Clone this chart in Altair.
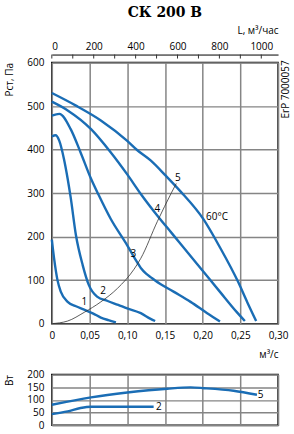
import altair as alt
import pandas as pd

# ---- data ----
# Pressure curves: q in m3/s, P in Pa
q1 = [0, 0.003, 0.0075, 0.012, 0.021, 0.032, 0.042, 0.055, 0.065, 0.075, 0.085]
p1 = [193, 150, 100, 73, 50, 40, 33, 23, 14, 8, 3]

q2 = [0, 0.005, 0.0097, 0.016, 0.021, 0.025, 0.032, 0.041, 0.049, 0.060, 0.074, 0.088, 0.100, 0.118, 0.131, 0.137]
p2 = [430, 433, 421, 379, 333, 290, 203, 134, 89, 62, 52, 43, 35, 24, 11, 6]

q3 = [0, 0.01, 0.025, 0.038, 0.052, 0.062, 0.078, 0.100, 0.110, 0.118, 0.125, 0.131, 0.137, 0.162, 0.184, 0.206, 0.223]
p3 = [478, 482, 447, 394, 333, 296, 241, 180, 150, 128, 115, 107, 99, 73, 50, 24, 5]

q4 = [0, 0.021, 0.052, 0.078, 0.100, 0.118, 0.140, 0.159, 0.197, 0.223, 0.245, 0.256]
p4 = [510, 490, 447, 394, 343, 298, 248, 208, 128, 73, 27, 6]

q5 = [0, 0.032, 0.065, 0.100, 0.113, 0.131, 0.151, 0.170, 0.201, 0.223, 0.247, 0.259, 0.271]
p5 = [530, 501, 467, 420, 399, 375, 340, 305, 240, 175, 96, 50, 6]

# System (network) curve
qs = [0, 0.021, 0.043, 0.065, 0.087, 0.109, 0.118, 0.140, 0.159, 0.165]
ps = [0, 6, 26, 50, 81, 125, 150, 235, 302, 322]

# Curve labels
lab_text = ["1", "2", "3", "4", "5", "60°C"]
lab_q = [0.043, 0.068, 0.108, 0.140, 0.167, 0.219]
lab_p = [50, 75, 161, 263, 334, 245]

# Power curves (W)
wq5 = [0, 0.052, 0.100, 0.153, 0.184, 0.202, 0.241, 0.272]
w5 = [81, 110, 129, 144, 149, 146, 136, 120]
wq2 = [0, 0.021, 0.038, 0.052, 0.100, 0.135]
w2 = [44, 55, 68, 73, 73, 73]
wlab_text = ["5", "2"]
wlab_q = [0.277, 0.142]
wlab_w = [120, 73]

x_ticks = [0, 0.05, 0.10, 0.15, 0.20, 0.25, 0.30]
p_ticks = [0, 100, 200, 300, 400, 500, 600]
w_ticks = [0, 50, 100, 150, 200]
l_ticks = [0, 100, 200, 300, 400, 500, 600, 700, 800, 900, 1000]
l_labels = [0, 200, 400, 600, 800, 1000]

BLUE = "#1a6db5"
GRID = "#858585"
FONT = "Open Sans"

curves = pd.concat([
    pd.DataFrame({"q": q, "P": p, "c": name})
    for q, p, name in [(q1, p1, "1"), (q2, p2, "2"), (q3, p3, "3"), (q4, p4, "4"), (q5, p5, "5")]
])
sys_df = pd.DataFrame({"q": qs, "P": ps})
lab_df = pd.DataFrame({"t": lab_text, "q": lab_q, "P": lab_p})
power = pd.concat([
    pd.DataFrame({"q": wq5, "W": w5, "c": "5"}),
    pd.DataFrame({"q": wq2, "W": w2, "c": "2"}),
])
wlab_df = pd.DataFrame({"t": wlab_text, "q": wlab_q, "W": wlab_w})
l_df = pd.DataFrame({"L": l_ticks})

label_expr = "datum.value == 0 ? '0' : replace(format(datum.value, '.2f'), '.', ',')"

xscale = alt.Scale(domain=[0, 0.30], nice=False, zero=True)
pscale = alt.Scale(domain=[0, 600], nice=False)
wscale = alt.Scale(domain=[0, 200], nice=False)

x_main = alt.X("q:Q", scale=xscale, axis=alt.Axis(
    values=x_ticks, labelExpr=label_expr, ticks=False, domain=False,
    grid=True, gridColor=GRID, gridWidth=1.5, gridOpacity=1,
    title="м³/с", titleAnchor="end", titleAlign="right", titleFontWeight="normal",
    labelPadding=7, titlePadding=9, labelFlush=False, labelOverlap=False))
y_main = alt.Y("P:Q", scale=pscale, axis=alt.Axis(
    values=p_ticks, ticks=False, domain=False,
    grid=True, gridColor=GRID, gridWidth=1.5, gridOpacity=1,
    title="Рст, Па", titleAnchor="end", titleFontWeight="normal",
    labelPadding=8, titlePadding=12, labelFlush=False, labelOverlap=False))

lines = alt.Chart(curves).mark_line(color=BLUE, strokeWidth=2.4, interpolate="monotone").encode(
    x=x_main, y=y_main, detail="c:N")
sysline = alt.Chart(sys_df).mark_line(color="#333333", strokeWidth=0.8, interpolate="monotone").encode(
    x=x_main, y=y_main)
labels = alt.Chart(lab_df).mark_text(fontSize=10, font=FONT, color="black").encode(
    x=x_main, y=y_main, text="t:N")
erp = alt.Chart(pd.DataFrame({"t": ["ErP 7000057"]})).mark_text(
    fontSize=10, font=FONT, color="black", angle=270).encode(
    text="t:N", x=alt.value(235), y=alt.value(27))

inner = alt.layer(lines, sysline, labels, erp)

top_ticks = alt.Chart(l_df).mark_rule(color="#333333", strokeWidth=1).encode(
    x=alt.X("L:Q", scale=alt.Scale(domain=[0, 1080], nice=False),
            axis=alt.Axis(orient="top", values=l_labels, format="d", ticks=False, offset=8,
                          domainColor="black", domainWidth=1, grid=False,
                          title="L, м³/час", titleAnchor="end", titleAlign="right",
                          titleFontWeight="normal", labelPadding=3, titlePadding=6,
                          labelOverlap=False)),
    y=alt.value(-8), y2=alt.value(-4))

main = alt.layer(inner, top_ticks).resolve_scale(x="independent").properties(
    width=227, height=262,
    title=alt.TitleParams("СК 200 В", font="DejaVu Serif", fontSize=14, fontWeight="bold",
                          anchor="middle", frame="group", offset=6))

x_pow = alt.X("q:Q", scale=xscale, axis=alt.Axis(
    values=x_ticks, labels=False, ticks=False, domain=False, title=None,
    grid=True, gridColor=GRID, gridWidth=1.5, gridOpacity=1))
y_pow = alt.Y("W:Q", scale=wscale, axis=alt.Axis(
    values=w_ticks, ticks=False, domain=False,
    grid=True, gridColor=GRID, gridWidth=1.5, gridOpacity=1,
    title="Вт", titleAnchor="end", titleFontWeight="normal",
    labelPadding=8, titlePadding=12, labelFlush=False, labelOverlap=False))

plines = alt.Chart(power).mark_line(color=BLUE, strokeWidth=2.4, interpolate="monotone").encode(
    x=x_pow, y=y_pow, detail="c:N")
plabels = alt.Chart(wlab_df).mark_text(fontSize=10, font=FONT, color="black").encode(
    x=x_pow, y=y_pow, text="t:N")
bottom = alt.layer(plines, plabels).properties(width=227, height=51)

chart = alt.vconcat(main, bottom, spacing=8).properties(
    padding={"left": 4, "top": 4, "right": 2, "bottom": 2}
).configure(font=FONT).configure_view(stroke="black", strokeWidth=1.5).configure_axis(
    labelFont=FONT, labelFontSize=10, labelColor="black", titleFont=FONT, titleFontSize=10,
    titleColor="black")

chart.save("out.html", embed_options={"renderer": "svg", "actions": False})
